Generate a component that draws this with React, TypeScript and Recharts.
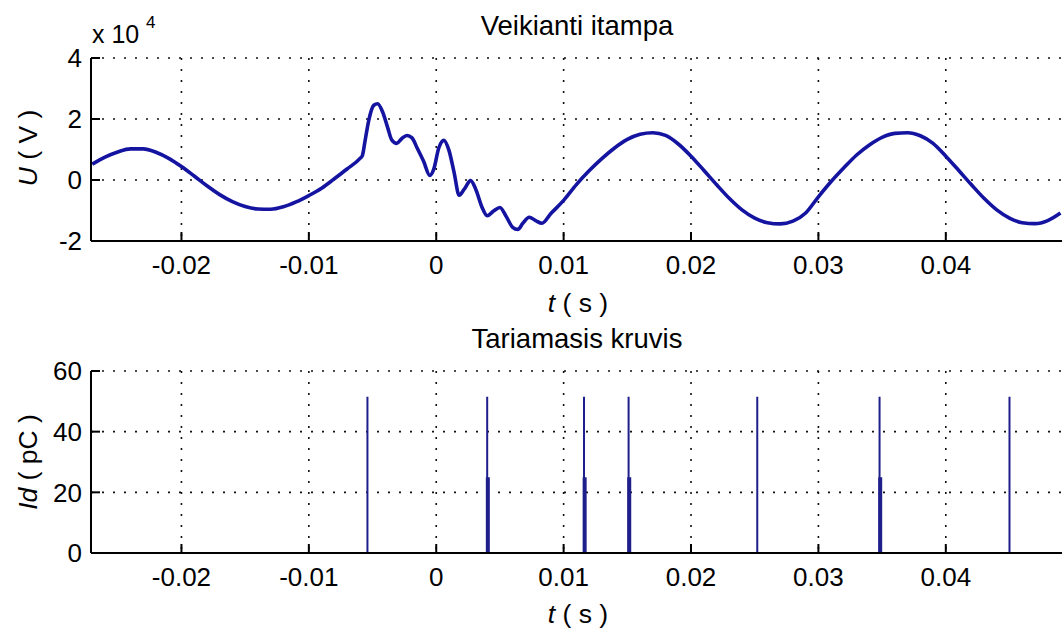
import { LineChart, Line, XAxis, YAxis, CartesianGrid } from 'recharts';

// top plot: applied voltage, values in 10^4 V
const voltageTime = [
  -0.027, -0.026, -0.025, -0.024, -0.023, -0.022, -0.021, -0.02, -0.019, -0.018,
  -0.017, -0.016, -0.015, -0.014, -0.013, -0.012, -0.011, -0.01, -0.009, -0.008,
  -0.007, -0.006, -0.0058, -0.0056, -0.0053, -0.0049, -0.0046, -0.0042, -0.0038, -0.0035,
  -0.0031, -0.0027, -0.0023, -0.0019, -0.0015, -0.001, -0.0005, -0.0002, 0.0002, 0.0006,
  0.001, 0.0014, 0.0018, 0.0022, 0.0027, 0.0031, 0.0036, 0.004, 0.0045, 0.005,
  0.0055, 0.006, 0.0064, 0.0068, 0.0073, 0.0078, 0.0083, 0.009, 0.01, 0.011,
  0.012, 0.013, 0.014, 0.015, 0.016, 0.017, 0.018, 0.019, 0.02, 0.021,
  0.022, 0.023, 0.024, 0.025, 0.026, 0.027, 0.028, 0.029, 0.03, 0.031,
  0.032, 0.033, 0.034, 0.035, 0.036, 0.037, 0.038, 0.039, 0.04, 0.041,
  0.042, 0.043, 0.044, 0.045, 0.046, 0.047, 0.048, 0.049,
];
const voltageValue = [
  0.52, 0.75, 0.92, 1.02, 1.02, 0.91, 0.71, 0.44, 0.13, -0.19,
  -0.48, -0.71, -0.87, -0.95, -0.96, -0.88, -0.72, -0.51, -0.27, 0.04,
  0.36, 0.7, 0.8, 1.25, 1.95, 2.45, 2.5, 2.22, 1.7, 1.32,
  1.2, 1.36, 1.46, 1.38, 1.05, 0.62, 0.15, 0.35, 1.05, 1.3,
  0.97, 0.25, -0.5, -0.3, -0.02, -0.3, -0.9, -1.17, -1.02, -0.9,
  -1.2, -1.55, -1.62, -1.42, -1.22, -1.33, -1.42, -1.1, -0.67, -0.15,
  0.3, 0.7, 1.05, 1.33, 1.5, 1.55, 1.46, 1.18, 0.78, 0.32,
  -0.15, -0.6, -0.98, -1.25, -1.4, -1.44, -1.35, -1.08, -0.55, -0.05,
  0.4, 0.82, 1.15, 1.4, 1.53, 1.55, 1.45, 1.2, 0.78, 0.32,
  -0.15, -0.6, -0.98, -1.25, -1.4, -1.43, -1.33, -1.08,
];

// bottom plot: apparent charge pulses (pC)
const pulseTime = [-0.0054, 0.004, 0.0116, 0.0151, 0.0252, 0.0348, 0.045];
const pulseCharge = [51.5, 51.5, 51.5, 51.5, 51.5, 51.5, 51.5];
const smallPulseTime = [0.00405, 0.01165, 0.01515, 0.03485];
const smallPulseCharge = [25, 25, 25, 25];

const timeTicks = [-0.02, -0.01, 0, 0.01, 0.02, 0.03, 0.04];
const voltageTicks = [-2, 0, 2, 4];
const chargeTicks = [0, 20, 40, 60];

const timeDomain: [number, number] = [-0.0271, 0.0492];
const lineBlue = '#1414a0';
const stemBlue = '#1f1f8c';

const voltageData = voltageTime.map((t, i) => ({ t, u: voltageValue[i] }));

// each pulse as its own vertical segment, broken by a null point
const toStems = (times: number[], values: number[]) =>
  times.flatMap((t, i) => [
    { t, q: 0 },
    { t, q: values[i] },
    { t, q: null },
  ]);
const pulseData = toStems(pulseTime, pulseCharge);
const smallPulseData = toStems(smallPulseTime, smallPulseCharge);

const labelFont = 'Liberation Sans, Arial, sans-serif';
const tickFont = { fontSize: 26, fill: '#000', fontFamily: labelFont };
const axisLine = { stroke: '#000', strokeWidth: 2 };
const tickLine = { stroke: '#000', strokeWidth: 2 };

const axes = (yDomain: [number, number], yTicks: number[]) => [
  <CartesianGrid key="grid" stroke="#111" strokeWidth={1.6} strokeDasharray="2 9" />,
  <XAxis
    key="xb"
    dataKey="t"
    type="number"
    domain={timeDomain}
    allowDataOverflow
    ticks={timeTicks}
    interval={0}
    tickFormatter={(v: number) => String(v)}
    tick={tickFont}
    tickSize={-9}
    tickMargin={24}
    height={40}
    axisLine={axisLine}
    tickLine={tickLine}
  />,
  <XAxis
    key="xt"
    xAxisId="top"
    orientation="top"
    dataKey="t"
    type="number"
    domain={timeDomain}
    allowDataOverflow
    ticks={timeTicks}
    interval={0}
    tick={false}
    tickSize={-9}
    height={0}
    axisLine={axisLine}
    tickLine={tickLine}
  />,
  <YAxis
    key="yl"
    type="number"
    domain={yDomain}
    allowDataOverflow
    ticks={yTicks}
    interval={0}
    tick={tickFont}
    tickSize={-9}
    tickMargin={18}
    width={91}
    axisLine={axisLine}
    tickLine={tickLine}
  />,
  <YAxis
    key="yr"
    yAxisId="right"
    orientation="right"
    type="number"
    domain={yDomain}
    allowDataOverflow
    ticks={yTicks}
    interval={0}
    tick={false}
    tickSize={-9}
    width={0}
    axisLine={axisLine}
    tickLine={tickLine}
  />,
];

export default function App() {
  return (
    <div
      style={{
        position: 'absolute',
        left: 0,
        top: 0,
        width: 1062,
        height: 628,
        overflow: 'hidden',
        background: '#fff',
        fontFamily: labelFont,
      }}
    >
      <div style={{ position: 'absolute', left: 0, top: 0 }}>
        <LineChart width={1064} height={281} data={voltageData} margin={{ top: 58, right: 1, bottom: 0, left: 0 }}>
          {axes([-2, 4], voltageTicks)}
          <Line
            type="monotone"
            dataKey="u"
            stroke={lineBlue}
            strokeWidth={3.6}
            dot={false}
            isAnimationActive={false}
          />
        </LineChart>
      </div>

      <div style={{ position: 'absolute', left: 0, top: 313 }}>
        <LineChart width={1064} height={280} margin={{ top: 58, right: 1, bottom: 0, left: 0 }}>
          {axes([0, 60], chargeTicks)}
          <Line
            data={pulseData}
            type="linear"
            dataKey="q"
            stroke={stemBlue}
            strokeWidth={2}
            dot={false}
            connectNulls={false}
            isAnimationActive={false}
          />
          <Line
            data={smallPulseData}
            type="linear"
            dataKey="q"
            stroke={stemBlue}
            strokeWidth={4}
            dot={false}
            connectNulls={false}
            isAnimationActive={false}
          />
        </LineChart>
      </div>

      <svg
        width={1062}
        height={628}
        style={{ position: 'absolute', left: 0, top: 0, pointerEvents: 'none' }}
        fontFamily={labelFont}
      >
        <text x={577} y={35} textAnchor="middle" fontSize={27.5}>Veikianti itampa</text>
        <text x={92} y={43} fontSize={25}>x 10</text>
        <text x={146} y={28} fontSize={17}>4</text>
        <text x={37} y={148} textAnchor="middle" fontSize={26.5} transform="rotate(-90 37 148)">
          <tspan fontStyle="italic">U</tspan> ( V )
        </text>
        <text x={578} y={312} textAnchor="middle" fontSize={26.5}>
          <tspan fontStyle="italic">t</tspan> ( s )
        </text>

        <text x={577} y={348} textAnchor="middle" fontSize={27.5}>Tariamasis kruvis</text>
        <text x={37} y={462} textAnchor="middle" fontSize={26.5} transform="rotate(-90 37 462)">
          <tspan fontStyle="italic">Id</tspan> ( pC )
        </text>
        <text x={578} y={623} textAnchor="middle" fontSize={26.5}>
          <tspan fontStyle="italic">t</tspan> ( s )
        </text>
      </svg>
    </div>
  );
}
